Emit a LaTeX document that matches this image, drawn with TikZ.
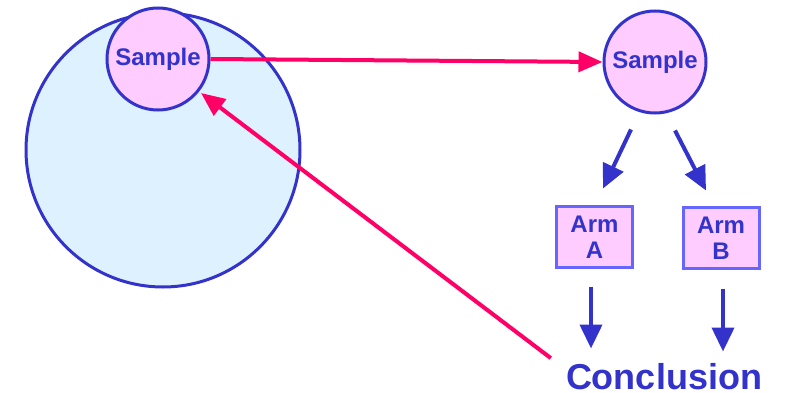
\documentclass[tikz,border=0pt]{standalone}
\usepackage{fontspec}
\setmainfont{Liberation Sans}
\usepackage{tikz}
\usetikzlibrary{arrows.meta}
\usetikzlibrary{calc}
\definecolor{ink}{HTML}{3333CC}
\definecolor{boxline}{HTML}{6666FF}
\definecolor{lilac}{HTML}{FFCCFF}
\definecolor{sky}{HTML}{DDF1FF}
\definecolor{rose}{HTML}{FF0066}
\tikzset{
  popcircle/.style={circle, draw=ink, line width=3pt, fill=sky, minimum size=274pt, inner sep=0pt},
  samplecircle/.style={circle, draw=ink, line width=3pt, fill=lilac, minimum size=102pt, inner sep=0pt,
    text=ink, font=\fontsize{24}{26}\selectfont\bfseries},
  armbox/.style={draw=boxline, line width=3pt, fill=lilac, minimum width=76pt, minimum height=60pt,
    inner sep=0pt, align=center, text=ink, font=\fontsize{24}{26}\selectfont\bfseries},
  bluearrow/.style={draw=ink, line width=4pt, -{Triangle[length=24pt,width=22pt]}},
  rosearrow/.style={draw=rose, line width=4pt, -{Triangle[length=24pt,width=20pt]}}
}

\begin{document}
\begin{tikzpicture}[x=1pt,y=-1pt]
            \useasboundingbox (0,0) rectangle (785,393);

            \node[popcircle] (pop) at (163,150) {};
            \node[samplecircle] (sampleL) at (158,59) {Sample};
            \node[samplecircle] (sampleR) at (655,62) {Sample};

            \node[armbox] (armA) at (594.5,237) {Arm\\A};
            \node[armbox] (armB) at (721,238) {Arm\\B};

            \node[anchor=base, inner sep=0pt, text=ink, font=\fontsize{36}{40}\selectfont\bfseries] (concl) at (664,389) {Conclusion};

            \draw[rosearrow] (sampleL.east) -- (sampleR.west);

            \draw[bluearrow] ($(sampleR.south)+(-24,15)$) -- ($(armA.north)+(8.5,-17)$);
            \draw[bluearrow] ($(sampleR.south)+(20,16)$) -- ($(armB.north)+(-15,-16)$);

            \draw[bluearrow] ($(armA.south)+(-3.5,18)$) -- ($(armA.south)+(-3.5,80)$);
            \draw[bluearrow] ($(armB.south)+(2,19)$) -- ($(armB.south)+(2,82)$);

            \draw[rosearrow] ($(concl.west)+(-15,-18)$) -- ($(sampleL)+(43,34)$);
        \end{tikzpicture}
\end{document}
